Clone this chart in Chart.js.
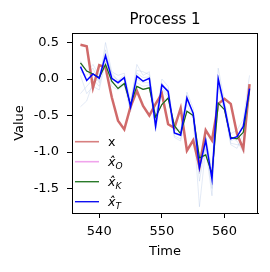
<!DOCTYPE html>
<html><head><meta charset="utf-8">
<script src="https://cdn.jsdelivr.net/npm/chart.js@4"></script>
<style>html,body{margin:0;padding:0;background:#fff}canvas{display:block}</style>
</head><body>
<canvas id="c" width="270" height="272" style="width:270px;height:272px"></canvas>
<script>
const times = [537,538,539,540,541,542,543,544,545,546,547,548,549,550,551,552,553,554,555,556,557,558,559,560,561,562,563,564];
const xTrue = [0.47,0.45,-0.12,0.19,0.16,-0.25,-0.57,-0.69,-0.38,-0.16,-0.37,-0.50,-0.34,-0.20,-0.62,-0.67,-0.40,-0.98,-0.84,-1.20,-0.70,-0.84,-0.34,-0.27,-0.34,-0.75,-0.96,-0.07];
const xK = [0.22,0.11,0.07,0.02,0.20,-0.03,-0.13,-0.06,-0.35,-0.10,-0.14,-0.12,-0.52,-0.35,-0.26,-0.64,-0.75,-0.44,-0.50,-1.08,-1.04,-1.30,-0.33,-0.42,-0.80,-0.82,-0.73,-0.15];
const xO = xK.slice();
const xT = [0.17,-0.02,0.07,0.01,0.32,0.01,-0.05,0.02,-0.38,0.04,-0.03,0.01,-0.65,-0.08,-0.17,-0.74,-0.77,-0.26,-0.47,-1.22,-0.84,-1.37,0.00,-0.38,-0.82,-0.79,-0.65,-0.13];
const ens1 = [0.10,0.05,0.15,-0.05,0.50,0.10,0.05,0.08,-0.30,0.12,0.10,0.06,-0.55,0.00,-0.10,-0.70,-0.72,-0.18,-0.40,-1.10,-0.78,-1.25,0.15,-0.30,-0.75,-0.70,-0.55,0.05];
const ens2 = [0.05,-0.20,-0.10,-0.15,0.25,-0.10,-0.15,-0.08,-0.45,-0.05,-0.10,-0.08,-0.72,-0.15,-0.25,-0.80,-0.85,-0.35,-0.55,-1.75,-0.95,-1.60,-0.10,-0.45,-0.90,-0.95,-0.75,-0.25];
const ens3 = [-0.38,-0.30,-0.05,0.00,0.40,0.05,-0.02,0.00,-0.35,0.20,0.05,0.10,-0.60,-0.05,-0.20,-0.75,-0.78,-0.22,-0.50,-1.30,-0.88,-1.45,0.05,-0.35,-0.80,-0.85,-1.00,-0.10];
const ens4 = [0.25,0.10,0.20,0.05,0.35,0.08,-0.02,0.05,-0.40,0.08,0.02,0.03,-0.50,-0.10,-0.15,-0.68,-0.70,-0.30,-0.45,-1.15,-0.80,-1.30,0.02,-0.40,-0.85,-0.80,-0.60,-0.15];
const ens5 = [-0.20,-0.10,0.00,-0.10,0.30,-0.05,-0.10,-0.05,-0.42,0.00,-0.05,-0.05,-0.68,-0.12,-0.22,-0.78,-0.82,-0.28,-0.52,-1.40,-0.90,-1.50,-0.05,-0.42,-0.88,-0.90,-0.90,-0.20];
const ensembles = [ens1, ens2, ens3, ens4, ens5];
const xTicks = [540, 550, 560];
const yTicks = [0.5, 0.0, -0.5, -1.0, -1.5];
const titleText = "Process 1";
const xLabel = "Time";
const yLabel = "Value";

const pts = arr => times.map((t, i) => ({x: t, y: arr[i]}));
const FONT = '"DejaVu Sans", sans-serif';

const datasets = [
  {label: 'T', data: pts(xT), borderColor: '#0000ff', borderWidth: 1.5, order: 0},
  {label: 'K', data: pts(xK), borderColor: '#107010', borderWidth: 1.2, order: 1},
  {label: 'O', data: pts(xO), borderColor: '#ee9ce8', borderWidth: 1.2, order: 2},
  {label: 'x', data: pts(xTrue), borderColor: 'rgba(200,80,80,0.85)', borderWidth: 2.5, order: 3},
];
ensembles.forEach((e, i) => datasets.push({label: 'e' + i, data: pts(e), borderColor: 'rgba(160,185,225,0.5)', borderWidth: 0.6, order: 4}));
datasets.forEach(d => { d.pointRadius = 0; d.tension = 0; d.fill = false; });

const legendItems = [
  {color: 'rgba(205,95,95,0.8)', w: 1.6, sub: null},
  {color: '#f0a4ec', w: 1.6, sub: 'O'},
  {color: '#2a7a2a', w: 1.4, sub: 'K'},
  {color: '#1010f0', w: 1.4, sub: 'T'},
];

const deco = {
  id: 'deco',
  afterDraw(chart) {
    const ctx = chart.ctx, a = chart.chartArea;
    ctx.save();
    ctx.strokeStyle = '#000'; ctx.lineWidth = 1;
    ctx.beginPath();
    ctx.moveTo(a.left, a.top + 0.5); ctx.lineTo(a.right, a.top + 0.5);
    ctx.moveTo(a.right - 0.5, a.top); ctx.lineTo(a.right - 0.5, a.bottom);
    ctx.stroke();
    ctx.fillStyle = '#000';
    ctx.textAlign = 'center'; ctx.textBaseline = 'alphabetic';
    ctx.font = '15px ' + FONT;
    ctx.fillText(titleText, (a.left + a.right) / 2, 24);
    ctx.font = '13px ' + FONT;
    ctx.fillText(xLabel, (a.left + a.right) / 2, 255);
    ctx.save();
    ctx.translate(23, (a.top + a.bottom) / 2);
    ctx.rotate(-Math.PI / 2);
    ctx.fillText(yLabel, 0, 0);
    ctx.restore();
    // legend
    const rows = [141.7, 161.7, 181.7, 201.7];
    legendItems.forEach((it, i) => {
      const y = rows[i];
      ctx.strokeStyle = it.color; ctx.lineWidth = it.w;
      ctx.beginPath(); ctx.moveTo(75, y); ctx.lineTo(99, y); ctx.stroke();
      ctx.fillStyle = '#000'; ctx.textAlign = 'left'; ctx.textBaseline = 'alphabetic';
      if (!it.sub) {
        ctx.font = '12.6px ' + FONT;
        ctx.fillText('x', 108, y + 4.5);
      } else {
        ctx.font = 'italic 12.6px ' + FONT;
        ctx.fillText('x\u0302', 108, y + 4.5);
        ctx.font = 'italic 9px ' + FONT;
        ctx.fillText(it.sub, 115.5, y + 7);
      }
    });
    ctx.restore();
  }
};

new Chart(document.getElementById('c'), {
  type: 'line',
  data: {datasets},
  options: {
    responsive: false, animation: false, devicePixelRatio: 1,
    layout: {padding: {top: 33, right: 12, left: 0, bottom: 0}},
    plugins: {legend: {display: false}, tooltip: {enabled: false}, title: {display: false}},
    scales: {
      x: {
        type: 'linear', min: 535.65, max: 565.35,
        afterBuildTicks: s => { s.ticks = xTicks.map(v => ({value: v})); },
        afterFit: s => { s.height = 59; },
        grid: {display: true, drawOnChartArea: false, drawTicks: true, tickLength: 5, color: '#000', lineWidth: 1},
        border: {display: true, color: '#000', width: 1},
        ticks: {color: '#000', font: {family: FONT, size: 13}, padding: 6, maxRotation: 0, callback: v => String(v)}
      },
      y: {
        type: 'linear', min: -1.836, max: 0.631,
        afterBuildTicks: s => { s.ticks = yTicks.map(v => ({value: v})); },
        afterFit: s => { s.width = 72; },
        grid: {display: true, drawOnChartArea: false, drawTicks: true, tickLength: 5, color: '#000', lineWidth: 1},
        border: {display: true, color: '#000', width: 1},
        ticks: {color: '#000', font: {family: FONT, size: 13}, padding: 8, callback: v => v.toFixed(1)}
      }
    }
  },
  plugins: [deco]
});
</script>
</body></html>
